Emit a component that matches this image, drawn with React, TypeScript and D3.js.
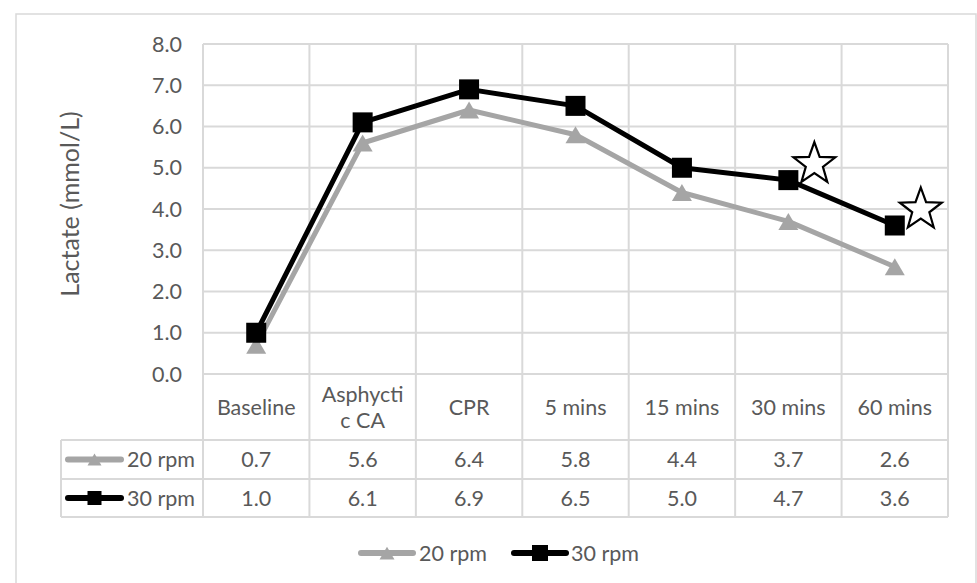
import React from "react";
import * as d3 from "d3";

const categories = ["Baseline", "Asphycti\nc CA", "CPR", "5 mins", "15 mins", "30 mins", "60 mins"];
const rpm20 = [0.7, 5.6, 6.4, 5.8, 4.4, 3.7, 2.6];
const rpm30 = [1.0, 6.1, 6.9, 6.5, 5.0, 4.7, 3.6];
const seriesNames = ["20 rpm", "30 rpm"];
const yTicks = [0, 1, 2, 3, 4, 5, 6, 7, 8];
const starIdx = [5, 6];

const FONT = "Lato, 'Open Sans', sans-serif";
const TXT = "#595959";
const GRID = "#D9D9D9";
const GREY = "#A5A5A5";
const FS = 21.5;

function starPath(cx: number, cy: number, R: number, r: number) {
  const pts: [number, number][] = [];
  for (let i = 0; i < 10; i++) {
    const a = -Math.PI / 2 + (i * Math.PI) / 5;
    const rad = i % 2 === 0 ? R : r;
    pts.push([cx + rad * Math.cos(a), cy + rad * Math.sin(a)]);
  }
  return d3.line()(pts) + "Z";
}

function Marker({ kind, cx, cy, s }: { kind: string; cx: number; cy: number; s: number }) {
  if (kind === "sq") {
    return <rect x={cx - s / 2} y={cy - s / 2} width={s} height={s} fill="#000" />;
  }
  const h = s * 0.85;
  const p = `M${cx},${cy - h / 2}L${cx + s / 2},${cy + h / 2}L${cx - s / 2},${cy + h / 2}Z`;
  return <path d={p} fill={GREY} />;
}

function LegendKey({ x0, x1, cy, kind, s }: { x0: number; x1: number; cy: number; kind: string; s: number }) {
  const color = kind === "sq" ? "#000" : GREY;
  return (
    <g>
      <line x1={x0} x2={x1} y1={cy} y2={cy} stroke={color} strokeWidth={6} strokeLinecap="round" />
      <Marker kind={kind} cx={(x0 + x1) / 2} cy={cy} s={s} />
    </g>
  );
}

export default function App() {
  const W = 977, H = 583;
  const left = 203, right = 948, top = 44, bottom = 374;
  const x = d3.scaleBand().domain(categories).range([left, right]);
  const y = d3.scaleLinear().domain([0, 8]).range([bottom, top]);
  const bw = x.bandwidth();
  const cx = (i: number) => (x(categories[i]) as number) + bw / 2;
  const line = d3.line<number>().x((_, i) => cx(i)).y((d) => y(d));

  const row1Top = 440, row2Top = 479, tableBottom = 517, tableLeft = 61;
  const series = [
    { name: seriesNames[0], vals: rpm20, kind: "tri", color: GREY },
    { name: seriesNames[1], vals: rpm30, kind: "sq", color: "#000" },
  ];

  return (
    <svg width={W} height={H} style={{ position: "absolute", left: 0, top: 0, background: "#fff" }} fontFamily={FONT}>
      <rect x={0} y={0} width={W} height={H} fill="#fff" />
      <rect x={16} y={14} width={960} height={620} fill="none" stroke={GRID} strokeWidth={1.5} />

      {yTicks.map((t) => (
        <line key={t} x1={left} x2={right} y1={y(t)} y2={y(t)} stroke={GRID} strokeWidth={2} />
      ))}
      {d3.range(categories.length + 1).map((i) => {
        const xx = left + i * bw;
        return <line key={i} x1={xx} x2={xx} y1={top} y2={tableBottom} stroke={GRID} strokeWidth={2} />;
      })}
      {[row1Top, row2Top, tableBottom].map((yy) => (
        <line key={yy} x1={tableLeft} x2={right} y1={yy} y2={yy} stroke={GRID} strokeWidth={2} />
      ))}
      <line x1={tableLeft} x2={tableLeft} y1={row1Top} y2={tableBottom} stroke={GRID} strokeWidth={2} />

      {yTicks.map((t) => (
        <text key={t} x={182} y={y(t)} dy="0.36em" textAnchor="end" fontSize={FS} fill={TXT}>
          {d3.format(".1f")(t)}
        </text>
      ))}
      <text transform={`translate(79,204) rotate(-90)`} textAnchor="middle" fontSize={25} fill={TXT}>
        Lactate (mmol/L)
      </text>

      {categories.map((c, i) => {
        const lines = c.split("\n");
        const mid = (bottom + row1Top) / 2;
        const lh = 26;
        return (
          <text key={c} x={cx(i)} textAnchor="middle" fontSize={FS} fill={TXT}>
            {lines.map((l, j) => (
              <tspan key={j} x={cx(i)} y={mid + (j - (lines.length - 1) / 2) * lh} dy="0.36em">
                {l}
              </tspan>
            ))}
          </text>
        );
      })}

      {series.map((s) => (
        <g key={s.name}>
          <path d={line(s.vals) as string} fill="none" stroke={s.color} strokeWidth={5} strokeLinejoin="round" />
          {s.vals.map((v, i) => (
            <Marker key={i} kind={s.kind} cx={cx(i)} cy={y(v)} s={20} />
          ))}
        </g>
      ))}

      {starIdx.map((i) => (
        <path key={i} d={starPath(cx(i) + 26, y(rpm30[i]) - 16, 22, 9)} fill="#fff" stroke="#000" strokeWidth={2.2} strokeLinejoin="miter" />
      ))}

      {series.map((s, r) => {
        const rt = r === 0 ? row1Top : row2Top;
        const rb = r === 0 ? row2Top : tableBottom;
        const cy = (rt + rb) / 2;
        return (
          <g key={s.name}>
            <LegendKey x0={68} x1={121} cy={cy} kind={s.kind} s={14} />
            <text x={127} y={cy} dy="0.36em" fontSize={FS} fill={TXT}>{s.name}</text>
            {s.vals.map((v, i) => (
              <text key={i} x={cx(i)} y={cy} dy="0.36em" textAnchor="middle" fontSize={FS} fill={TXT}>
                {d3.format(".1f")(v)}
              </text>
            ))}
          </g>
        );
      })}

      <LegendKey x0={361} x1={413} cy={553} kind="tri" s={15} />
      <text x={419} y={553} dy="0.36em" fontSize={FS} fill={TXT}>{seriesNames[0]}</text>
      <LegendKey x0={514} x1={566} cy={553} kind="sq" s={16} />
      <text x={571} y={553} dy="0.36em" fontSize={FS} fill={TXT}>{seriesNames[1]}</text>
    </svg>
  );
}
